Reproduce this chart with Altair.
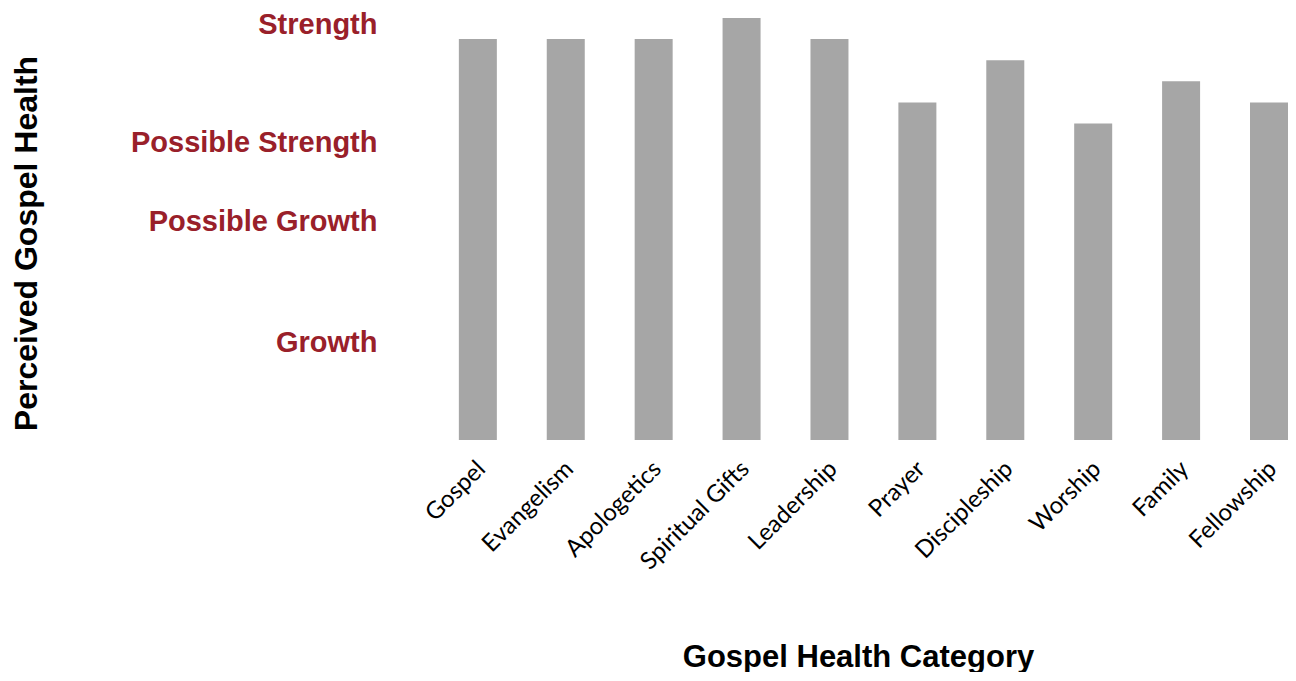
import altair as alt
import pandas as pd

categories = ["Gospel", "Evangelism", "Apologetics", "Spiritual Gifts", "Leadership",
              "Prayer", "Discipleship", "Worship", "Family", "Fellowship"]
values = [95, 95, 95, 100, 95, 80, 90, 75, 85, 80]

level_positions = [23.2, 51.8, 70.6, 98.5]
level_names = ["Growth", "Possible Growth", "Possible Strength", "Strength"]

df = pd.DataFrame({"category": categories, "value": values})

label_expr = " : ".join(
    [f"datum.value == {p} ? '{n}'" for p, n in zip(level_positions, level_names)]
) + " : ''"

chart = alt.Chart(df).mark_bar(color="#A6A6A6").encode(
    x=alt.X("category:N", sort=categories,
            scale=alt.Scale(paddingInner=0.5677, paddingOuter=0.13, align=1),
            axis=alt.Axis(title="Gospel Health Category", labelAngle=-45,
                          labelAlign="right", labelBaseline="middle",
                          labelFont="Lato", labelFontSize=24, labelColor="#000000",
                          labelPadding=25, labelOffset=4, labelLimit=300,
                          ticks=False, domain=False,
                          titleFont="Liberation Sans", titleFontSize=31,
                          titleFontWeight="bold", titleColor="#000000",
                          titleX=422, titleY=226, titleBaseline="alphabetic",
                          titleAlign="center")),
    y=alt.Y("value:Q", scale=alt.Scale(domain=[0, 100], nice=False),
            axis=alt.Axis(title="Perceived Gospel Health", values=level_positions,
                          labelExpr=label_expr, grid=False, ticks=False, domain=False,
                          labelFont="Liberation Sans", labelFontSize=29,
                          labelFontWeight="bold", labelColor="#99202A",
                          labelPadding=59, labelLimit=400, labelBaseline="middle",
                          labelAlign="right",
                          titleFont="Liberation Sans", titleFontSize=32,
                          titleFontWeight="bold", titleColor="#000000",
                          titleX=-410, titleY=225, titleAngle=-90,
                          titleBaseline="middle", titleAlign="center")),
).properties(
    width=852, height=422,
    autosize=alt.AutoSizeParams(type="none"),
    padding={"left": 428, "top": 10, "right": 0, "bottom": 232},
).configure_view(stroke=None)

chart.save("out.html", embed_options={"renderer": "svg", "actions": False})
